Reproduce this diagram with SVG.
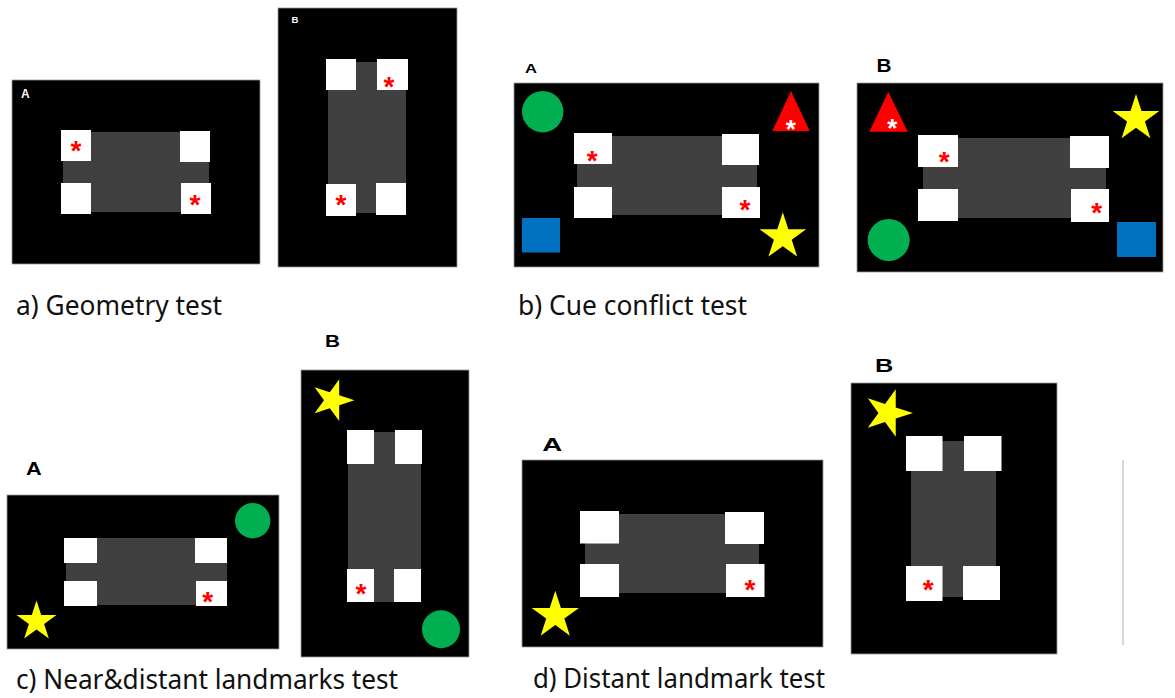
<svg xmlns="http://www.w3.org/2000/svg" width="1175" height="698" viewBox="0 0 1175 698">
<style>
.bg{fill:#000;stroke:#9a9a9a;stroke-width:0.8}
.arena{fill:#404040}
.sq{fill:#fff}
.ast{font-family:"Liberation Sans",Arial,sans-serif;font-weight:bold;font-size:28px;fill:#ff0000;text-anchor:middle}
.astw{font-family:"Liberation Sans",Arial,sans-serif;font-weight:bold;font-size:26px;fill:#fff;text-anchor:middle}
.lblw{font-family:"Liberation Sans",Arial,sans-serif;font-weight:bold;fill:#fff}
.lblk{font-family:"Liberation Sans",Arial,sans-serif;font-weight:bold;fill:#000}
.cap{font-family:"Noto Sans","Open Sans",sans-serif;font-size:27px;fill:#111}
.green{fill:#00b050}
.blue{fill:#0070c0}
.red{fill:#ff0000}
.yellow{fill:#ffff00}
</style>
<defs>
<polygon id="star" points="0,-1 0.2245,-0.309 0.9511,-0.309 0.3633,0.118 0.5878,0.809 0,0.382 -0.5878,0.809 -0.3633,0.118 -0.9511,-0.309 -0.2245,-0.309"/>
</defs>
<rect width="1175" height="698" fill="#fff"/>

<g id="panel-a-A">
<rect class="bg" x="12" y="80" width="248" height="184"/>
<text class="lblw" x="21" y="97.5" font-size="12">A</text>
<rect class="arena" x="63" y="132" width="146" height="80"/>
<rect class="sq" x="61" y="130" width="30" height="31"/>
<rect class="sq" x="180" y="131" width="30" height="31"/>
<rect class="sq" x="61" y="183" width="30" height="31"/>
<rect class="sq" x="181" y="183" width="30" height="31"/>
<text class="ast" x="76" y="160">*</text>
<text class="ast" x="195" y="214">*</text>
</g>

<g id="panel-a-B">
<rect class="bg" x="278" y="8" width="179" height="259"/>
<text class="lblw" x="291.5" y="23.3" font-size="9.5">B</text>
<rect class="arena" x="328" y="62" width="78" height="151"/>
<rect class="sq" x="326" y="59" width="30" height="31"/>
<rect class="sq" x="377" y="59" width="31" height="31"/>
<rect class="sq" x="326" y="184" width="30" height="32"/>
<rect class="sq" x="376" y="183" width="30" height="32"/>
<text class="ast" x="389" y="96">*</text>
<text class="ast" x="341" y="214">*</text>
</g>

<g id="panel-b-A">
<text class="lblk" x="525" y="73" font-size="12" textLength="12" lengthAdjust="spacingAndGlyphs">A</text>
<rect class="bg" x="514" y="83" width="305" height="184"/>
<circle class="green" cx="542.7" cy="111.7" r="20.7"/>
<polygon class="red" points="791,91 809.7,131 772.3,131"/>
<text class="astw" x="790.7" y="138">*</text>
<rect class="arena" x="577" y="136" width="180" height="79"/>
<rect class="sq" x="574" y="133" width="38" height="31"/>
<rect class="sq" x="722" y="134" width="37" height="31"/>
<rect class="sq" x="574" y="187" width="38" height="31"/>
<rect class="sq" x="722" y="187" width="38" height="31"/>
<text class="ast" x="592.3" y="170.3">*</text>
<text class="ast" x="745" y="219.3">*</text>
<rect class="blue" x="522" y="218" width="38" height="34.5"/>
<use href="#star" class="yellow" transform="translate(782.8,236.8) scale(24.5)"/>
</g>

<g id="panel-b-B">
<text class="lblk" x="876.5" y="71.7" font-size="18.5" textLength="15" lengthAdjust="spacingAndGlyphs">B</text>
<rect class="bg" x="857" y="83" width="306" height="189"/>
<polygon class="red" points="888.3,91.7 907.7,131.7 869.3,131.7"/>
<text class="astw" x="892.3" y="136.7">*</text>
<use href="#star" class="yellow" transform="translate(1136,118.5) scale(24.5)"/>
<rect class="arena" x="923" y="138" width="183" height="80"/>
<rect class="sq" x="918" y="135" width="40" height="32"/>
<rect class="sq" x="1070" y="136" width="39" height="32"/>
<rect class="sq" x="918" y="189" width="40" height="32"/>
<rect class="sq" x="1071" y="189" width="38" height="33"/>
<text class="ast" x="944.3" y="171">*</text>
<text class="ast" x="1096.7" y="222">*</text>
<circle class="green" cx="888.7" cy="240" r="21"/>
<rect class="blue" x="1117" y="222" width="39" height="35"/>
</g>

<g id="panel-c-A">
<text class="lblk" x="26" y="475" font-size="18.5" textLength="15.7" lengthAdjust="spacingAndGlyphs">A</text>
<rect class="bg" x="7" y="495" width="272" height="154"/>
<circle class="green" cx="252.7" cy="520.7" r="17.7"/>
<rect class="arena" x="66" y="538" width="161" height="67"/>
<rect class="sq" x="64" y="538" width="33" height="25"/>
<rect class="sq" x="195" y="538" width="32" height="25"/>
<rect class="sq" x="64" y="581" width="33" height="25"/>
<rect class="sq" x="196" y="581" width="31" height="25"/>
<text class="ast" x="207.7" y="611">*</text>
<use href="#star" class="yellow" transform="translate(36.5,621.5) scale(21)"/>
</g>

<g id="panel-c-B">
<text class="lblk" x="325" y="346.7" font-size="16.3" textLength="15" lengthAdjust="spacingAndGlyphs">B</text>
<rect class="bg" x="301" y="370" width="168" height="287"/>
<use href="#star" class="yellow" transform="translate(332.4,400.2) rotate(90) scale(22)"/>
<rect class="arena" x="348" y="432" width="73" height="170"/>
<rect class="sq" x="347" y="430" width="27" height="34"/>
<rect class="sq" x="395" y="430" width="27" height="34"/>
<rect class="sq" x="347" y="569" width="27" height="33"/>
<rect class="sq" x="394" y="569" width="27" height="33"/>
<text class="ast" x="361" y="602.7">*</text>
<circle class="green" cx="441" cy="629.3" r="19"/>
</g>

<g id="panel-d-A">
<text class="lblk" x="542.3" y="451" font-size="17.7" textLength="20" lengthAdjust="spacingAndGlyphs">A</text>
<rect class="bg" x="522" y="460" width="301" height="187"/>
<rect class="arena" x="585" y="514" width="174" height="79"/>
<rect class="sq" x="580" y="511" width="39" height="32.5"/>
<rect class="sq" x="725" y="512" width="39" height="32"/>
<rect class="sq" x="580" y="564" width="39" height="33"/>
<rect class="sq" x="726" y="564" width="38.5" height="33"/>
<text class="ast" x="750" y="599.3">*</text>
<use href="#star" class="yellow" transform="translate(555.3,615.6) scale(24.9)"/>
</g>

<g id="panel-d-B">
<text class="lblk" x="875" y="371.7" font-size="18.5" textLength="18.3" lengthAdjust="spacingAndGlyphs">B</text>
<rect class="bg" x="851" y="383" width="206" height="271"/>
<use href="#star" class="yellow" transform="translate(888,413) rotate(90) scale(25)"/>
<rect class="arena" x="911" y="441" width="85" height="156"/>
<rect class="sq" x="906" y="436" width="36.5" height="35"/>
<rect class="sq" x="964" y="436" width="37.5" height="35"/>
<rect class="sq" x="906" y="566" width="36.5" height="35"/>
<rect class="sq" x="963" y="566" width="37" height="34"/>
<text class="ast" x="928.3" y="599.3">*</text>
</g>

<line x1="1123" y1="460" x2="1123" y2="645" stroke="#c8c8c8" stroke-width="1.5"/>

<g id="captions">
<text class="cap" x="16" y="315" textLength="206" lengthAdjust="spacingAndGlyphs">a) Geometry test</text>
<text class="cap" x="518" y="315" textLength="229" lengthAdjust="spacingAndGlyphs">b) Cue conflict test</text>
<text class="cap" x="16" y="689" textLength="382" lengthAdjust="spacingAndGlyphs">c) Near&amp;distant landmarks test</text>
<text class="cap" x="533" y="688" textLength="292" lengthAdjust="spacingAndGlyphs">d) Distant landmark test</text>
</g>
<g id="connectors"/>
</svg>
